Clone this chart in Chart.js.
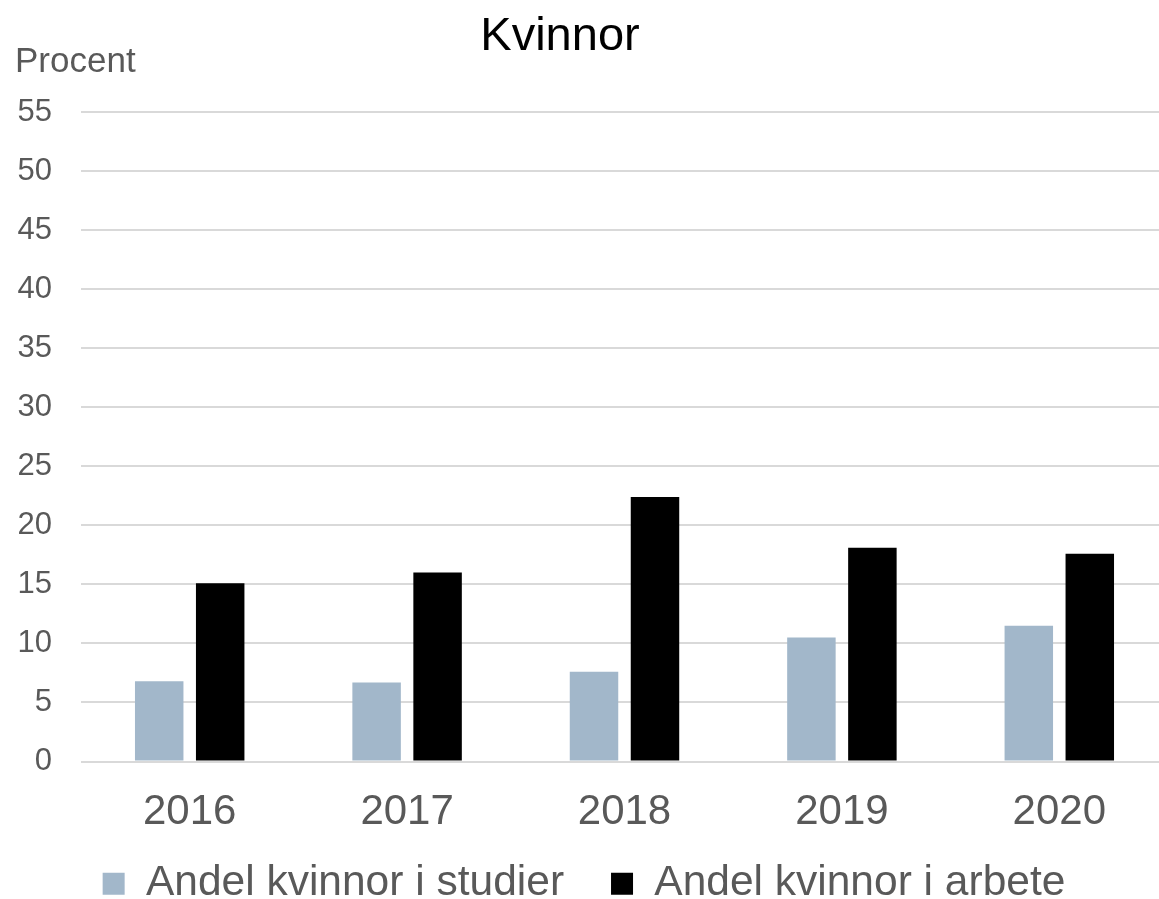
<!DOCTYPE html>
<html>
<head>
<meta charset="utf-8">
<script src="https://cdn.jsdelivr.net/npm/chart.js@4"></script>
<style>
  html, body { margin: 0; padding: 0; background: #fff; overflow: hidden; }
  #wrap { width: 1168px; height: 899px; position: relative; }
</style>
</head>
<body>
<div id="wrap"><canvas id="c"></canvas></div>
<script>
const chartTitle = "Kvinnor";
const axisTitle = "Procent";
const categories = ["2016", "2017", "2018", "2019", "2020"];
const seriesNames = ["Andel kvinnor i studier", "Andel kvinnor i arbete"];
const studier = [6.8, 6.7, 7.6, 10.5, 11.5];
const arbete = [15.1, 16.0, 22.4, 18.1, 17.6];
const yTicks = [0, 5, 10, 15, 20, 25, 30, 35, 40, 45, 50, 55];

const FONT = "'Liberation Sans', Arial, sans-serif";
const GREY = "#595959";

const textPlugin = {
  id: "texts",
  afterDraw(chart) {
    const ctx = chart.ctx;
    ctx.save();
    ctx.textBaseline = "alphabetic";
    ctx.fillStyle = "#000";
    ctx.font = "47px " + FONT;
    ctx.textAlign = "center";
    ctx.fillText(chartTitle, 560, 50);
    ctx.fillStyle = GREY;
    ctx.font = "35px " + FONT;
    ctx.textAlign = "left";
    ctx.fillText(axisTitle, 15, 72);
    ctx.restore();
  }
};

new Chart(document.getElementById("c"), {
  type: "bar",
  data: {
    labels: categories,
    datasets: [
      { label: seriesNames[0], data: studier, backgroundColor: "#A2B7CA", borderWidth: 0 },
      { label: seriesNames[1], data: arbete, backgroundColor: "#000000", borderWidth: 0 }
    ]
  },
  options: {
    responsive: true,
    maintainAspectRatio: false,
    animation: false,
    layout: { padding: { top: 112, bottom: -16, left: 0, right: 0 } },
    datasets: { bar: { categoryPercentage: 0.561, barPercentage: 0.795 } },
    plugins: {
      title: { display: false },
      tooltip: { enabled: false },
      legend: {
        position: "bottom",
        labels: {
          font: { family: FONT, size: 42.5 },
          color: GREY,
          boxWidth: 22,
          boxHeight: 22,
          padding: 47
        }
      }
    },
    scales: {
      x: {
        grid: { display: false, drawTicks: false },
        border: { display: false },
        ticks: { font: { family: FONT, size: 42 }, color: GREY, padding: 26 },
        afterFit(scale) {
          scale.height = 54;
          scale._computeLabelArea = function () { return undefined; };
        }
      },
      y: {
        min: 0,
        max: 55,
        afterBuildTicks(scale) { scale.ticks = yTicks.map(v => ({ value: v })); },
        grid: { color: "#D9D9D9", lineWidth: 2, drawTicks: false },
        border: { display: false },
        ticks: { font: { family: FONT, size: 31 }, color: GREY, padding: 29 },
        afterFit(scale) { scale.width = 81; }
      }
    }
  },
  plugins: [textPlugin]
});
</script>
</body>
</html>
